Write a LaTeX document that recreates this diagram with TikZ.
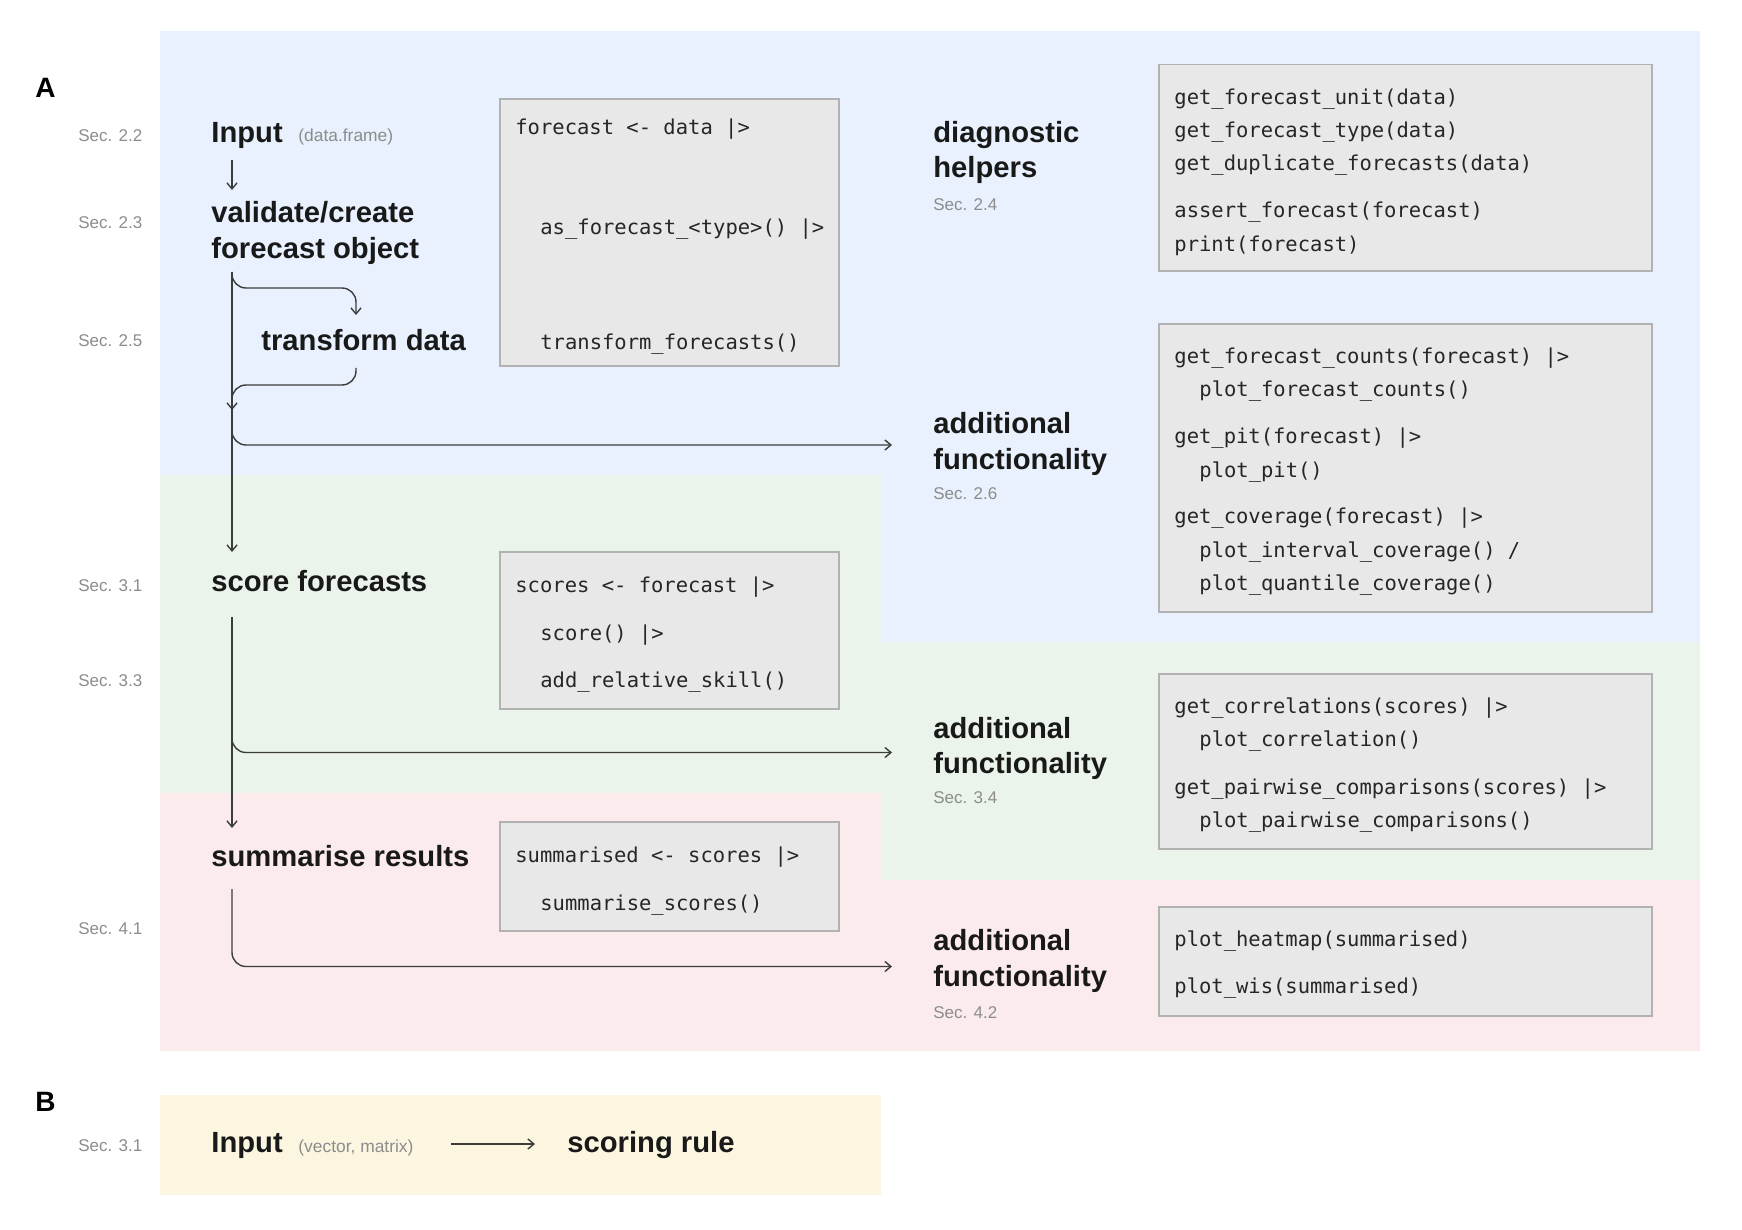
\documentclass[tikz,border=0pt]{standalone}
\usepackage{fontspec}
\setmainfont{Liberation Sans}
\setmonofont{DejaVu Sans Mono}
\usepackage{tikz}
\usetikzlibrary{arrows.meta}
\definecolor{bgblue}{HTML}{E8F1FD}
\definecolor{bggreen}{HTML}{EAF4EA}
\definecolor{bgpink}{HTML}{FCEBEC}
\definecolor{bgyellow}{HTML}{FCF6E1}
\definecolor{boxfill}{HTML}{E8E8E8}
\definecolor{boxline}{HTML}{B2B2B2}
\definecolor{secgray}{HTML}{8C8C8C}
\definecolor{flowgray}{HTML}{3C3C3C}

\tikzset{
  head/.style={anchor=west, inner sep=0pt, align=left, text=black!90,
    font=\fontsize{14.6}{17.8}\selectfont\bfseries},
  panel/.style={anchor=west, inner sep=0pt, font=\fontsize{14}{16}\selectfont\bfseries},
  sec/.style={anchor=west, inner sep=0pt, text=secgray, font=\fontsize{8.5}{10}\selectfont},
  note/.style={anchor=west, inner sep=0pt, text=secgray, font=\fontsize{8.7}{10}\selectfont},
  codebox/.style={draw=boxline, fill=boxfill, line width=0.9pt},
  codeline/.style={anchor=west, inner sep=0pt, yshift=-1pt, text=black!85,
    font=\ttfamily\fontsize{10.25}{12}\selectfont},
  flow/.style={draw=flowgray, line width=0.7pt, rounded corners=7pt},
  arr/.style={-{Straight Barb[length=3pt,width=5pt]}}
}

\begin{document}
\begin{tikzpicture}[x=0.5pt, y=-0.5pt]
    \useasboundingbox (0,0) rectangle (1742,1230);

    % coloured bands
    \fill[bgblue] (160,31) -- (1700,31) -- (1700,642) -- (881,642)
          -- (881,475) -- (160,475) -- cycle;
    \fill[bggreen] (160,475) -- (881,475) -- (881,642) -- (1700,642)
          -- (1700,880) -- (881,880) -- (881,793) -- (160,793) -- cycle;
    \fill[bgpink] (160,793) -- (881,793) -- (881,880) -- (1700,880)
          -- (1700,1051) -- (160,1051) -- cycle;
    \fill[bgyellow] (160,1095) rectangle (881,1195);

    % panel letters
    \node[panel] (pA) at (35,88) {A};
    \node[panel] (pB) at (35,1102) {B};

    % section numbers
    \node[sec] (s22) at (78,135.5) {Sec. 2.2};
    \node[sec] (s23) at (78,223) {Sec. 2.3};
    \node[sec] (s25) at (78,341) {Sec. 2.5};
    \node[sec] (s31) at (78,586) {Sec. 3.1};
    \node[sec] (s33) at (78,681) {Sec. 3.3};
    \node[sec] (s41) at (78,929) {Sec. 4.1};
    \node[sec] (s31b) at (78,1146) {Sec. 3.1};

    % workflow steps
    \node[head] (input) at (211,135) {Input};
    \node[note] (inputnote) at (298,137) {(data.frame)};
    \node[head] (validate) at (211,233) {validate/create\\forecast object};
    \node[head] (transform) at (261,340) {transform data};
    \node[head] (score) at (211,581) {score forecasts};
    \node[head] (summarise) at (211,856) {summarise results};

    % right hand side
    \node[head] (diag) at (933,152.5) {diagnostic\\helpers};
    \node[sec] (s24) at (933,205) {Sec. 2.4};
    \node[head] (addA) at (933,444) {additional\\functionality};
    \node[sec] (s26) at (933,494) {Sec. 2.6};
    \node[head] (addB) at (933,748.5) {additional\\functionality};
    \node[sec] (s34) at (933,798) {Sec. 3.4};
    \node[head] (addC) at (933,961) {additional\\functionality};
    \node[sec] (s42) at (933,1013) {Sec. 4.2};

    % code boxes, left
    \draw[codebox] (500,99) rectangle (839,366);
    \node[codeline] (cf1a) at (515,127) {forecast <- data |>};
    \node[codeline] (cf1b) at (540,227) {as\_forecast\_<type>() |>};
    \node[codeline] (cf1c) at (540,342) {transform\_forecasts()};

    \draw[codebox] (500,552) rectangle (839,709);
    \node[codeline] (cf2a) at (515,585) {scores <- forecast |>};
    \node[codeline] (cf2b) at (540,633) {score() |>};
    \node[codeline] (cf2c) at (540,680) {add\_relative\_skill()};

    \draw[codebox] (500,822) rectangle (839,931);
    \node[codeline] (cf3a) at (515,855) {summarised <- scores |>};
    \node[codeline] (cf3b) at (540,903) {summarise\_scores()};

    % code boxes, right
    \draw[codebox] (1159,64.5) rectangle (1652,271);
    \node[codeline] (cr1a) at (1174,97) {get\_forecast\_unit(data)};
    \node[codeline] (cr1b) at (1174,130.5) {get\_forecast\_type(data)};
    \node[codeline] (cr1c) at (1174,163.5) {get\_duplicate\_forecasts(data)};
    \node[codeline] (cr1d) at (1174,210.5) {assert\_forecast(forecast)};
    \node[codeline] (cr1e) at (1174,243.5) {print(forecast)};

    \draw[codebox] (1159,324) rectangle (1652,612);
    \node[codeline] (cr2a) at (1174,356) {get\_forecast\_counts(forecast) |>};
    \node[codeline] (cr2b) at (1199,389) {plot\_forecast\_counts()};
    \node[codeline] (cr2c) at (1174,436.5) {get\_pit(forecast) |>};
    \node[codeline] (cr2d) at (1199,470) {plot\_pit()};
    \node[codeline] (cr2e) at (1174,516.5) {get\_coverage(forecast) |>};
    \node[codeline] (cr2f) at (1199,550) {plot\_interval\_coverage() /};
    \node[codeline] (cr2g) at (1199,583) {plot\_quantile\_coverage()};

    \draw[codebox] (1159,674) rectangle (1652,849);
    \node[codeline] (cr3a) at (1174,706) {get\_correlations(scores) |>};
    \node[codeline] (cr3b) at (1199,739) {plot\_correlation()};
    \node[codeline] (cr3c) at (1174,787) {get\_pairwise\_comparisons(scores) |>};
    \node[codeline] (cr3d) at (1199,820) {plot\_pairwise\_comparisons()};

    \draw[codebox] (1159,907) rectangle (1652,1016);
    \node[codeline] (cr4a) at (1174,939) {plot\_heatmap(summarised)};
    \node[codeline] (cr4b) at (1174,986) {plot\_wis(summarised)};

    % flow coordinates
    \coordinate (inbot) at (232,160);
    \coordinate (valtop) at (232,190);
    \coordinate (valbot) at (232,272);
    \coordinate (trtop) at (356,315);
    \coordinate (trbot) at (356,368);
    \coordinate (trback) at (232,385);
    \coordinate (merge) at (232,410);
    \coordinate (sctop) at (232,552);
    \coordinate (scbot) at (232,617);
    \coordinate (scfork) at (232,715);
    \coordinate (sutop) at (232,828);
    \coordinate (subot) at (232,889);
    \coordinate (toA) at (892,445);
    \coordinate (toB) at (892,752.5);
    \coordinate (toC) at (892,966.5);

    % flow arrows
    \draw[flow, arr] (inbot) -- (valtop);
    \draw[flow, arr] (valbot) |- (trtop |- 0,288) -- (trtop);
    \draw[flow, arr] (trbot) |- (trback) -- (merge);
    \draw[flow, arr] (valbot) -- (sctop);
    \draw[flow, arr] (merge) |- (toA);
    \draw[flow, arr] (scbot) -- (sutop);
    \draw[flow, arr] (scfork) |- (toB);
    \draw[flow, arr] (subot) |- (toC);

    % panel B
    \node[head] (inputB) at (211,1145) {Input};
    \node[note] (inputBnote) at (298,1148) {(vector, matrix)};
    \node[head] (rule) at (567,1145) {scoring rule};
    \coordinate (bstart) at (451,1144);
    \coordinate (bend) at (535,1144);
    \draw[flow, arr] (bstart) -- (bend);
\end{tikzpicture}
\end{document}
